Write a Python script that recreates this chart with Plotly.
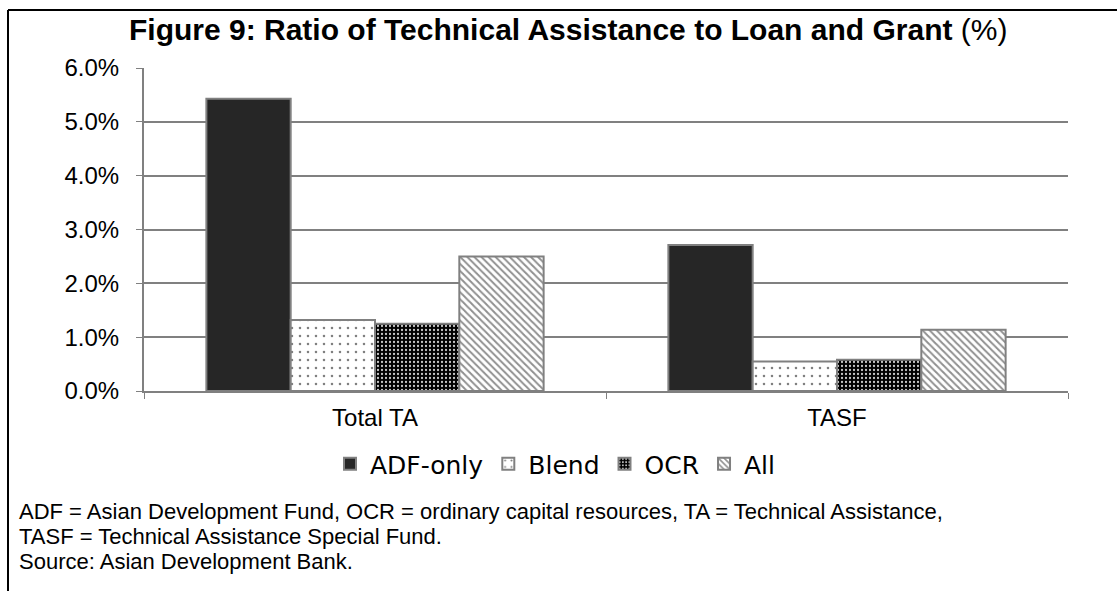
import plotly.graph_objects as go

categories = ["Total TA", "TASF"]
series_names = ["ADF-only", "Blend", "OCR", "All"]
adf_only = [5.43, 2.71]
blend = [1.32, 0.55]
ocr = [1.25, 0.58]
all_vals = [2.50, 1.14]
y_ticks = [0, 1, 2, 3, 4, 5, 6]
footnote_lines = [
    "ADF = Asian Development Fund, OCR = ordinary capital resources, TA = Technical Assistance,",
    "TASF = Technical Assistance Special Fund.",
    "Source: Asian Development Bank.",
]

GRAY = "#808080"
W, H = 1117, 591
L, R, T, B = 144, 49, 68, 200
PW, PH = W - L - R, H - T - B


def px(xp):
    return (xp - L) / PW


def py(yp):
    return (H - B - yp) / PH


fig = go.Figure()
styles = [
    dict(color="#262626", pattern=dict(shape="")),
    dict(color="white", pattern=dict(shape=".", fgcolor="black", bgcolor="white", size=8, solidity=0.08, fillmode="overlay")),
    dict(color="black", pattern=dict(shape=".", fgcolor="#c8c8c8", bgcolor="black", size=4, solidity=0.25, fillmode="replace")),
    dict(color="white", pattern=dict(shape="\\", fgcolor="#222222", bgcolor="white", size=5, solidity=0.4, fillmode="overlay")),
]
for name, vals, st in zip(series_names, [adf_only, blend, ocr, all_vals], styles):
    fig.add_trace(go.Bar(
        x=categories, y=vals, name=name,
        marker=dict(color=st["color"], pattern=st["pattern"], line=dict(color=GRAY, width=2)),
    ))

fig.update_layout(
    width=W, height=H,
    margin=dict(l=L, r=R, t=T, b=B),
    plot_bgcolor="white", paper_bgcolor="white",
    barmode="group", bargap=0.27, bargroupgap=0,
    showlegend=True,
    legend=dict(orientation="h", x=px(330), xanchor="left", y=py(464), yanchor="middle",
                font=dict(family="DejaVu Sans", size=25, color="black"),
                itemwidth=30, tracegroupgap=0, bgcolor="rgba(0,0,0,0)"),
    xaxis=dict(showline=True, linecolor=GRAY, linewidth=2, ticks="outside", tickson="boundaries",
               ticklen=6, tickcolor=GRAY, tickwidth=1, ticklabelstandoff=4,
               tickfont=dict(family="Liberation Sans", size=24, color="black")),
    yaxis=dict(range=[0, 6], tickvals=y_ticks, ticktext=[f"{v:.1f}%" for v in y_ticks],
               showline=True, linecolor=GRAY, linewidth=2, ticks="outside", ticklen=6,
               tickcolor=GRAY, showgrid=True, gridcolor=GRAY, gridwidth=1.5, zeroline=False,
               ticklabelstandoff=12,
               tickfont=dict(family="Liberation Sans", size=24, color="black")),
    font=dict(family="Liberation Sans"),
)

fig.add_annotation(x=px(568), y=py(30), xref="paper", yref="paper", xanchor="center", yanchor="middle",
                   text="<b>Figure 9: Ratio of Technical Assistance to Loan and Grant</b> (%)",
                   showarrow=False, font=dict(family="Liberation Sans", size=30, color="black"))

for i, line in enumerate(footnote_lines):
    fig.add_annotation(x=px(18), y=py(511 + 25 * i), xref="paper", yref="paper",
                       xanchor="left", yanchor="middle", align="left",
                       text=line, showarrow=False, borderpad=0,
                       font=dict(family="Liberation Sans", size=22, color="black"))

fig.add_shape(type="line", xref="paper", yref="paper",
              x0=px(8), x1=px(1117), y0=py(10), y1=py(10),
              line=dict(color="black", width=2))
fig.add_shape(type="line", xref="paper", yref="paper",
              x0=px(8), x1=px(8), y0=py(10), y1=py(600),
              line=dict(color="black", width=2))

fig.write_html("out.html")
